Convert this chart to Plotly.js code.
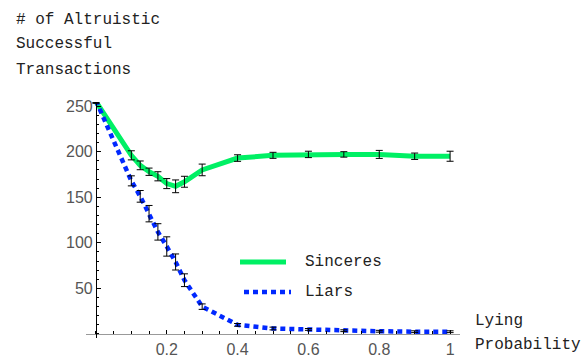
<!DOCTYPE html>
<html>
<head>
<meta charset="utf-8">
<script src="https://cdn.plot.ly/plotly-3.0.1.min.js"></script>
<style>html,body{margin:0;padding:0;background:#fff;}#chart{width:584px;height:358px;}</style>
</head>
<body>
<div id="chart"></div>
<script>
// ---- data ----
var lyingProb   = [0, 0.1, 0.125, 0.15, 0.175, 0.2, 0.225, 0.25, 0.3, 0.4, 0.5, 0.6, 0.7, 0.8, 0.9, 1.0];
var sinceres    = [255, 196, 185, 178, 173, 165, 162, 167, 180, 193, 196, 197, 197, 197, 195, 195];
var sinceresErr = [2, 5, 4.8, 4, 5, 5.5, 7, 6, 6.4, 3.6, 3.3, 3.5, 3, 4.4, 3.5, 5.5];
var liars       = [256, 168, 151, 132, 112, 96, 79, 59, 30, 10, 6, 5, 3.6, 3, 2.5, 2.5];
var liarsErr    = [2, 5.5, 6.4, 9, 9, 10.6, 8.8, 7, 3, 1.5, 1.5, 1, 1, 1, 1, 1];
var xTickVals   = [0.2, 0.4, 0.6, 0.8, 1];
var xTickText   = ["0.2", "0.4", "0.6", "0.8", "1"];
var yTickVals   = [50, 100, 150, 200, 250];
var yTickText   = ["50", "100", "150", "200", "250"];
var seriesNames = ["Sinceres", "Liars"];
var titleLines  = ["# of Altruistic", "Successful", "Transactions"];
var xTitleLines = ["Lying", "Probability"];

// ---- layout geometry ----
var W = 584, H = 358;
var M = {l: 86, r: 124, t: 102, b: 20};
var pw = W - M.l - M.r, ph = H - M.t - M.b;
var xRange = [-0.028, 1.028], yRange = [-4.4, 254.5];
function px2x(p){ return (p - M.l) / pw; }
function px2y(p){ return (H - M.b - p) / ph; }

var GREEN = "rgb(0,240,100)";
var BLUE  = "rgb(0,40,255)";
var mono  = "Liberation Mono, Courier New, monospace";

var traces = [
  {x: lyingProb, y: sinceres, mode: "lines", name: seriesNames[0], showlegend: false,
   line: {color: GREEN, width: 5}},
  {x: lyingProb, y: liars, mode: "lines", name: seriesNames[1], showlegend: false,
   line: {color: BLUE, width: 4.5, dash: "5px,4px"}},
  {x: lyingProb, y: sinceres, mode: "markers", showlegend: false, hoverinfo: "skip",
   marker: {size: 1, color: "rgba(0,0,0,0)"},
   error_y: {type: "data", array: sinceresErr, visible: true, color: "#000", thickness: 1, width: 3.5}},
  {x: lyingProb, y: liars, mode: "markers", showlegend: false, hoverinfo: "skip",
   marker: {size: 1, color: "rgba(0,0,0,0)"},
   error_y: {type: "data", array: liarsErr, visible: true, color: "#000", thickness: 1, width: 3.5}}
];

var annotations = [];
var titleY = [20, 44, 70];
titleLines.forEach(function(t, i){
  annotations.push({text: t, xref: "paper", yref: "paper", x: px2x(14), y: px2y(titleY[i]),
    xanchor: "left", yanchor: "middle", showarrow: false, font: {family: mono, size: 16, color: "#222"}});
});
var xtY = [321, 345];
xTitleLines.forEach(function(t, i){
  annotations.push({text: t, xref: "paper", yref: "paper", x: px2x(473), y: px2y(xtY[i]),
    xanchor: "left", yanchor: "middle", showarrow: false, font: {family: mono, size: 16, color: "#222"}});
});
// legend
var legY = [262, 292];
seriesNames.forEach(function(t, i){
  annotations.push({text: t, xref: "paper", yref: "paper", x: px2x(303), y: px2y(legY[i]),
    xanchor: "left", yanchor: "middle", showarrow: false, font: {family: mono, size: 16, color: "#222"}});
});
var shapes = [
  {type: "line", xref: "paper", yref: "paper", x0: px2x(240), x1: px2x(286), y0: px2y(legY[0]), y1: px2y(legY[0]),
   line: {color: GREEN, width: 5}},
  {type: "line", xref: "paper", yref: "paper", x0: px2x(244), x1: px2x(291), y0: px2y(legY[1]), y1: px2y(legY[1]),
   line: {color: BLUE, width: 4.5, dash: "5px,4px"}}
];

var layout = {
  width: W, height: H, margin: M, paper_bgcolor: "#fff", plot_bgcolor: "#fff",
  showlegend: false,
  xaxis: {range: xRange, anchor: "free", position: (0 - yRange[0]) / (yRange[1] - yRange[0]),
    showgrid: false, zeroline: false, showline: true, linecolor: "#999", linewidth: 1.5,
    tickmode: "array", tickvals: xTickVals, ticktext: xTickText,
    ticks: "inside", ticklen: 4, tickcolor: "#000", tickwidth: 1,
    minor: {tickmode: "linear", tick0: 0, dtick: 0.05, ticks: "inside", ticklen: 2.5, tickcolor: "#000", showgrid: false},
    tickfont: {family: "Liberation Sans, Arial, sans-serif", size: 16, color: "#555"}},
  yaxis: {range: yRange, anchor: "free", position: (0 - xRange[0]) / (xRange[1] - xRange[0]),
    showgrid: false, zeroline: false, showline: true, linecolor: "#000", linewidth: 1,
    tickmode: "array", tickvals: yTickVals, ticktext: yTickText,
    ticks: "inside", ticklen: 4, tickcolor: "#000", tickwidth: 1,
    minor: {tickmode: "linear", tick0: 0, dtick: 10, ticks: "inside", ticklen: 2.5, tickcolor: "#000", showgrid: false},
    tickfont: {family: "Liberation Sans, Arial, sans-serif", size: 16, color: "#555"}},
  annotations: annotations,
  shapes: shapes
};

Plotly.newPlot("chart", traces, layout, {staticPlot: true, displayModeBar: false});
</script>
</body>
</html>
